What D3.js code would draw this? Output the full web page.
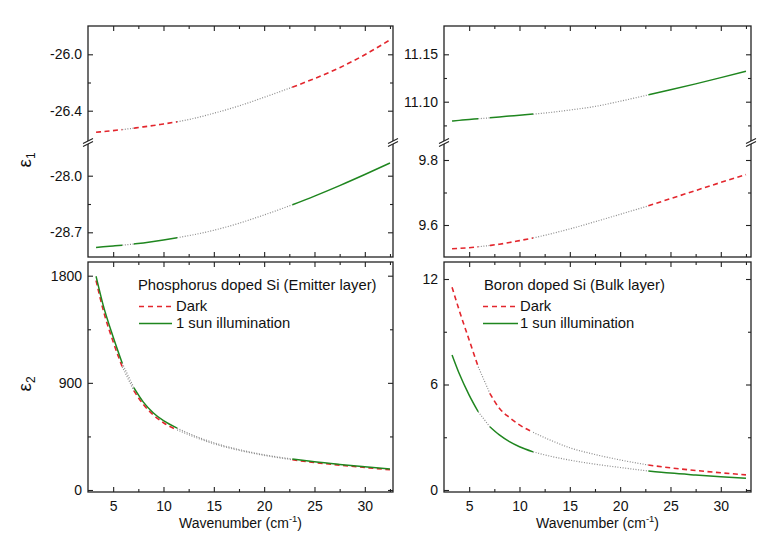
<!DOCTYPE html>
<html><head><meta charset="utf-8">
<script src="https://cdn.jsdelivr.net/npm/d3@7"></script>
<style>
body{margin:0;background:#fff}
text{font-family:"Liberation Sans",Arial,sans-serif;fill:#111}
</style>
</head><body>
<svg id="c" width="781" height="546"></svg>
<script>
// ---------- data ----------
const wavenumber = [3.3,4,5,5.9,7.05,8,9,10,11.35,13,15,17.5,20,22.8,25,27.5,30,32.5];

// epsilon_1, phosphorus doped Si (emitter layer)
const eps1PDark = [-26.553,-26.548,-26.541,-26.534,-26.524,-26.515,-26.505,-26.494,-26.479,-26.455,-26.418,-26.366,-26.305,-26.233,-26.172,-26.095,-26.003,-25.898];
const eps1PSun  = [-28.887,-28.880,-28.869,-28.859,-28.845,-28.831,-28.814,-28.795,-28.767,-28.730,-28.675,-28.588,-28.485,-28.360,-28.252,-28.122,-27.985,-27.843];
// epsilon_1, boron doped Si (bulk layer)
const eps1BSun  = [11.0797,11.0803,11.0812,11.0820,11.0830,11.0839,11.0848,11.0857,11.0869,11.0886,11.0912,11.0950,11.1005,11.1072,11.1125,11.1188,11.1254,11.1322];
const eps1BDark = [9.527,9.528,9.530,9.533,9.537,9.541,9.546,9.552,9.560,9.572,9.588,9.610,9.633,9.659,9.681,9.706,9.731,9.755];
// epsilon_2
const eps2PDark = [1760,1515,1245,1035,835,718,630,565,505,448,388,333,291,254,231,209,189,170];
const eps2PSun  = [1795,1555,1285,1065,860,738,647,582,520,458,397,340,296,260,237,215,195,177];
const eps2BDark = [11.53,10.24,8.53,7.01,5.50,4.65,4.12,3.70,3.28,2.85,2.40,2.02,1.71,1.42,1.26,1.11,0.98,0.86];
const eps2BSun  = [7.68,6.64,5.40,4.45,3.60,3.13,2.75,2.46,2.17,1.93,1.70,1.47,1.28,1.08,0.96,0.855,0.76,0.67];

// index ranges of measured spectral windows and of the interpolated gaps
const measuredSegments = [[0,3],[4,8],[13,17]];
const gapSegments = [[3,4],[8,13]];

const xMajorTicks = [5,10,15,20,25,30];
const xMinorTicks = [7.5,12.5,17.5,22.5,27.5,32.5];

const ticksPUpper = [-26.0,-26.4], minorPUpper = [-26.2];
const ticksPLower = [-28.0,-28.7], minorPLower = [-28.35];
const ticksBUpper = [11.15,11.10], minorBUpper = [11.125,11.075];
const ticksBLower = [9.8,9.6],     minorBLower = [9.7];
const ticksE2P = [0,900,1800],     minorE2P = [450,1350];
const ticksE2B = [0,6,12],         minorE2B = [3,9];

const legendTitles = ["Phosphorus doped Si (Emitter layer)","Boron doped Si (Bulk layer)"];
const legendLabels = ["Dark","1 sun illumination"];

// ---------- styles ----------
const RED = "#e3262d", GREEN = "#1f861f", GREY = "#8c8c8c", FRAME = "#222";
const styles = {
  dark: {stroke:RED, dash:"5,3.5", w:1.6},
  sun:  {stroke:GREEN, dash:null, w:1.5}
};

const svg = d3.select("#c");

const L = {x0:88, x1:393, xd:[2.5,32.8]};
const R = {x0:444, x1:751, xd:[2.5,33.0]};
const TOP = {y0:26, y1:257, brk:142.5};
const BOT = {y0:262, y1:492};

const f1 = d => d.toFixed(1), f2 = d => d.toFixed(2), f0 = d => String(d);

const panels = [
  {col:L, row:TOP, xlabels:false, subs:[
    {y0:26, y1:141, dom:[-26.0,-26.4], rng:[54.3,110.7], major:ticksPUpper, minor:minorPUpper, fmt:f1, series:[[eps1PDark,"dark"]]},
    {y0:144, y1:257, dom:[-28.0,-28.7], rng:[175.7,232.3], major:ticksPLower, minor:minorPLower, fmt:f1, series:[[eps1PSun,"sun"]]}
  ]},
  {col:R, row:TOP, xlabels:false, subs:[
    {y0:26, y1:141, dom:[11.15,11.10], rng:[54.3,101.7], major:ticksBUpper, minor:minorBUpper, fmt:f2, series:[[eps1BSun,"sun"]]},
    {y0:144, y1:257, dom:[9.8,9.6], rng:[160,225], major:ticksBLower, minor:minorBLower, fmt:f1, series:[[eps1BDark,"dark"]]}
  ]},
  {col:L, row:BOT, xlabels:true, legend:0, subs:[
    {y0:262, y1:492, dom:[0,1800], rng:[490,275.7], major:ticksE2P, minor:minorE2P, fmt:f0, series:[[eps2PDark,"dark"],[eps2PSun,"sun"]]}
  ]},
  {col:R, row:BOT, xlabels:true, legend:1, subs:[
    {y0:262, y1:492, dom:[0,12], rng:[490,279], major:ticksE2B, minor:minorE2B, fmt:f0, series:[[eps2BDark,"dark"],[eps2BSun,"sun"]]}
  ]}
];

function styleAxis(g){
  g.select(".domain").remove();
  g.selectAll("line").attr("stroke",FRAME).attr("stroke-width",1.1);
  g.selectAll("text").attr("font-family","Liberation Sans, Arial, sans-serif").attr("font-size",14).attr("fill","#111");
}

panels.forEach((p,pi)=>{
  const x = d3.scaleLinear().domain(p.col.xd).range([p.col.x0,p.col.x1]);
  const gp = svg.append("g");

  p.subs.forEach((s,si)=>{
    const y = d3.scaleLinear().domain(s.dom).range(s.rng);
    const clipId = "clip"+pi+"_"+si;
    svg.append("clipPath").attr("id",clipId).append("rect")
      .attr("x",p.col.x0).attr("y",s.y0).attr("width",p.col.x1-p.col.x0).attr("height",s.y1-s.y0);
    const gc = gp.append("g").attr("clip-path","url(#"+clipId+")");
    s.series.forEach(([vals,key])=>{
      const line = d3.line().x(i=>x(wavenumber[i])).y(i=>y(vals[i])).curve(d3.curveMonotoneX);
      const st = styles[key];
      gapSegments.forEach(([a,b])=>{
        gc.append("path").attr("d",line(d3.range(a,b+1))).attr("fill","none")
          .attr("stroke",GREY).attr("stroke-width",1.2).attr("stroke-dasharray","1,1.6");
      });
      measuredSegments.forEach(([a,b])=>{
        gc.append("path").attr("d",line(d3.range(a,b+1))).attr("fill","none")
          .attr("stroke",st.stroke).attr("stroke-width",st.w)
          .attr("stroke-dasharray",st.dash);
      });
    });
    // y axes (left with labels, right mirrored)
    const yl = d3.axisLeft(y).tickValues(s.major).tickSize(-5).tickPadding(6).tickFormat(s.fmt);
    gp.append("g").attr("transform",`translate(${p.col.x0},0)`).call(yl).call(styleAxis);
    gp.append("g").attr("transform",`translate(${p.col.x0},0)`).call(d3.axisLeft(y).tickValues(s.minor).tickSize(-3).tickFormat("")).call(styleAxis);
    gp.append("g").attr("transform",`translate(${p.col.x1},0)`).call(d3.axisRight(y).tickValues(s.major).tickSize(-5).tickFormat("")).call(styleAxis);
    gp.append("g").attr("transform",`translate(${p.col.x1},0)`).call(d3.axisRight(y).tickValues(s.minor).tickSize(-3).tickFormat("")).call(styleAxis);
  });

  // x axes bottom & top
  const xb = d3.axisBottom(x).tickValues(xMajorTicks).tickSize(-5).tickPadding(9).tickFormat(p.xlabels? f0 : "");
  gp.append("g").attr("transform",`translate(0,${p.row.y1})`).call(xb).call(styleAxis);
  gp.append("g").attr("transform",`translate(0,${p.row.y1})`).call(d3.axisBottom(x).tickValues(xMinorTicks).tickSize(-3).tickFormat("")).call(styleAxis);
  gp.append("g").attr("transform",`translate(0,${p.row.y0})`).call(d3.axisTop(x).tickValues(xMajorTicks).tickSize(-5).tickFormat("")).call(styleAxis);
  gp.append("g").attr("transform",`translate(0,${p.row.y0})`).call(d3.axisTop(x).tickValues(xMinorTicks).tickSize(-3).tickFormat("")).call(styleAxis);

  // frame
  gp.append("rect").attr("x",p.col.x0).attr("y",p.row.y0).attr("width",p.col.x1-p.col.x0).attr("height",p.row.y1-p.row.y0)
    .attr("fill","none").attr("stroke",FRAME).attr("stroke-width",1.3);

  // axis break marks
  if (p.row.brk){
    [p.col.x0,p.col.x1].forEach(ax=>{
      const by = p.row.brk;
      gp.append("path").attr("d",`M${ax-5},${by+1}L${ax+5},${by-4}L${ax+5},${by-1}L${ax-5},${by+4}Z`).attr("fill","#fff").attr("stroke","none");
      gp.append("path").attr("d",`M${ax-5},${by+1}L${ax+5},${by-4}M${ax-5},${by+4}L${ax+5},${by-1}`).attr("stroke",FRAME).attr("stroke-width",1.1).attr("fill","none");
    });
  }

  // x axis title
  if (p.xlabels){
    const t = svg.append("text").attr("x",(p.col.x0+p.col.x1)/2).attr("y",528).attr("text-anchor","middle").attr("font-size",14);
    t.append("tspan").text("Wavenumber (cm");
    t.append("tspan").attr("font-size",9.5).attr("dy",-6).text("-1");
    t.append("tspan").attr("dy",6).text(")");
  }

  // legend
  if (p.legend !== undefined){
    const lx = p.legend===0 ? 138 : 484;
    const sx0 = p.legend===0 ? 139 : 483, sx1 = p.legend===0 ? 172 : 518;
    const tx = p.legend===0 ? 176 : 520;
    svg.append("text").attr("x",lx).attr("y",290).attr("font-size",14.8).text(legendTitles[p.legend]);
    svg.append("line").attr("x1",sx0).attr("x2",sx1).attr("y1",306.5).attr("y2",306.5)
      .attr("stroke",RED).attr("stroke-width",1.6).attr("stroke-dasharray","5,4");
    svg.append("text").attr("x",tx).attr("y",311).attr("font-size",14.8).text(legendLabels[0]);
    svg.append("line").attr("x1",sx0).attr("x2",sx1).attr("y1",323.5).attr("y2",323.5)
      .attr("stroke",GREEN).attr("stroke-width",1.6);
    svg.append("text").attr("x",tx).attr("y",328).attr("font-size",14.8).text(legendLabels[1]);
  }
});

// y axis titles (epsilon_1, epsilon_2)
function yTitle(cx, cy, sub){
  const t = svg.append("text").attr("transform",`translate(${cx},${cy}) rotate(-90)`)
    .attr("text-anchor","middle").attr("font-size",19);
  t.append("tspan").text("ε");
  t.append("tspan").attr("font-size",12).attr("dy",4).text(sub);
}
yTitle(31,160,"1");
yTitle(31,384,"2");
</script>
</body></html>
